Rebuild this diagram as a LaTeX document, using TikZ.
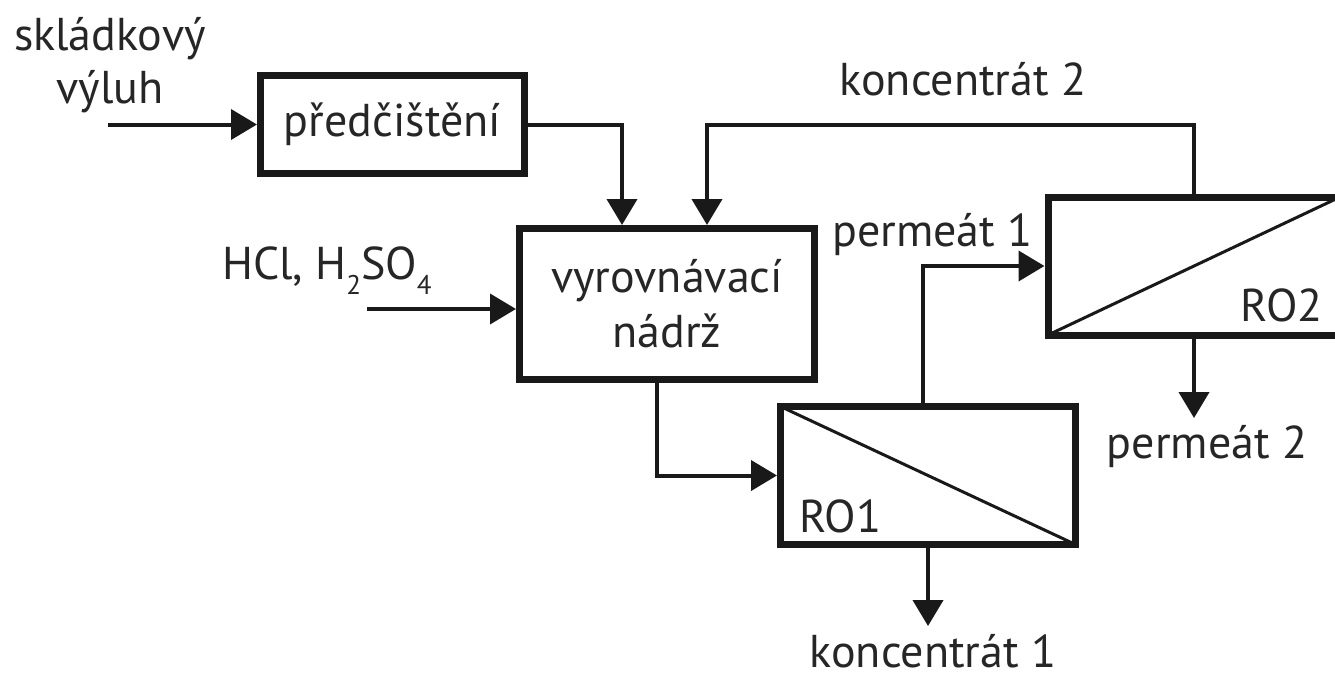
\documentclass[tikz,border=0pt]{standalone}
\usepackage{fontspec}
\setmainfont{PT Sans}
\usetikzlibrary{arrows.meta,calc}

\newcommand{\lbl}{\fontsize{46}{55}\selectfont}
\newcommand{\sbs}[1]{\raisebox{-15pt}{\fontsize{27}{27}\selectfont #1}}

\begin{document}
\begin{tikzpicture}[x=1pt,y=-1pt,
  font=\lbl, text=black!85,
  unit/.style={draw=black!90, line width=7pt, rectangle, inner sep=0pt,
    align=center},
  flow/.style={draw=black!90, line width=4pt,
    -{Triangle[length=26pt,width=30pt]}},
  membrane/.style={draw=black!90, line width=3pt},
  caption/.style={anchor=base, inner sep=0pt}]
\useasboundingbox (0,0) rectangle (1335,678);
\clip (0,0) rectangle (1335,678);

% process units
\node[unit, minimum width=264pt, minimum height=98pt] (pre) at (392.5,124.5) {předčištění};
\node[unit, minimum width=295pt, minimum height=151pt] (tank) at (667,304) {vyrovnávací\\nádrž};
\node[unit, minimum width=295pt, minimum height=138pt] (ro1) at (928,475.5) {};
\node[unit, minimum width=292pt, minimum height=138pt] (ro2) at (1194,266) {};

% membranes
\draw[membrane] ([shift={(3.5pt,-3.5pt)}]ro1.north west) -- ([shift={(-3.5pt,3.5pt)}]ro1.south east);
\draw[membrane] ([shift={(3.5pt,3.5pt)}]ro2.south west) -- ([shift={(-3.5pt,-3.5pt)}]ro2.north east);

% unit labels
\node[caption, anchor=base west] (ro1lbl) at (799,532) {RO1};
\node[caption, anchor=base east] (ro2lbl) at (1323,321) {RO2};

% free ends of the streams
\coordinate (feed) at (108,124.5);
\coordinate (acid) at (367,309);
\coordinate (c1end) at (928,626);
\coordinate (p2end) at (1194,418);

% streams
\draw[flow] (feed) -- (pre.west);
\draw[flow] (acid) -- (acid -| tank.west);
\draw[flow] (pre.east) -| ([xshift=-45pt]tank.north);
\draw[flow] (ro2.north) -- (ro2.north |- pre.east) -| ([xshift=40pt]tank.north);
\draw[flow] ([xshift=-10pt]tank.south) |- (ro1.west);
\draw[flow] ([xshift=-5pt]ro1.north) |- (ro2.west);
\draw[flow] (ro1.south) -- (c1end);
\draw[flow] (ro2.south) -- (p2end);

% stream labels
\node[caption] (t1) at (110,50) {skládkový};
\node[caption] (t2) at (110,103) {výluh};
\node[caption, anchor=base west] (t3) at (222,279) {HCl, H\sbs{2}SO\sbs{4}};
\node[caption] (t4) at (963,95) {koncentrát 2};
\node[caption] (t5) at (932.5,246) {permeát 1};
\node[caption] (t6) at (1207,458) {permeát 2};
\node[caption] (t7) at (933,667) {koncentrát 1};
\end{tikzpicture}
\end{document}
